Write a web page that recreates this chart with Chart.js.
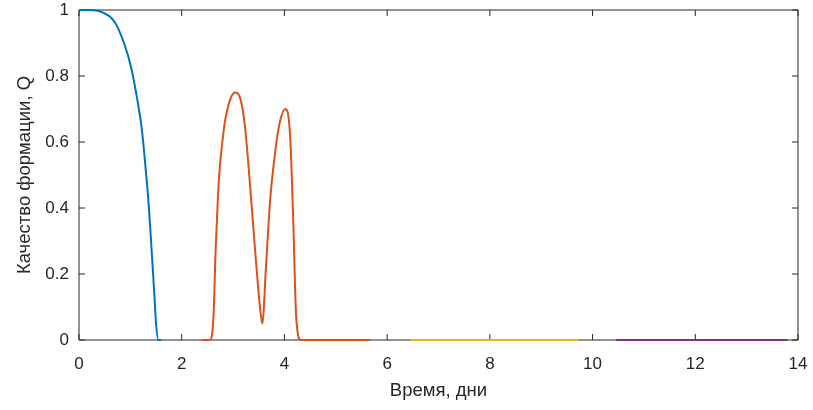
<!DOCTYPE html>
<html>
<head>
<meta charset="utf-8">
<script src="https://cdn.jsdelivr.net/npm/chart.js@4/dist/chart.umd.min.js"></script>
<style>
  html, body { margin: 0; padding: 0; background: #fff; }
  #wrap { width: 813px; height: 410px; }
</style>
</head>
<body>
<div id="wrap"><canvas id="myChart" width="813" height="410"></canvas></div>
<script>
// data (time in days, quality Q)
const blueT = [0, 0.1, 0.2, 0.3, 0.4, 0.5, 0.6, 0.7, 0.76, 0.89, 1.02, 1.12, 1.16, 1.21, 1.25, 1.3, 1.35, 1.39, 1.43, 1.47, 1.5, 1.545, 1.6];
const blueQ = [1, 1, 1, 0.999, 0.996, 0.99, 0.98, 0.962, 0.945, 0.894, 0.823, 0.742, 0.705, 0.655, 0.6, 0.515, 0.425, 0.333, 0.232, 0.131, 0.05, 0, 0];

const orangeT = [2.39, 2.55, 2.62, 2.66, 2.71, 2.74, 2.77, 2.84, 2.94, 3.04, 3.14, 3.23, 3.33, 3.43, 3.52, 3.57, 3.64, 3.72, 3.82, 3.91, 4.02, 4.11, 4.17, 4.23, 4.32, 5.67];
const orangeQ = [0, 0, 0.076, 0.27, 0.45, 0.52, 0.57, 0.66, 0.727, 0.75, 0.732, 0.65, 0.47, 0.27, 0.106, 0.05, 0.22, 0.42, 0.57, 0.66, 0.70, 0.62, 0.37, 0.066, 0, 0];

const yellowT = [6.46, 9.74];
const yellowQ = [0, 0];

const purpleT = [10.46, 13.79];
const purpleQ = [0, 0];

const xTicks = [0, 2, 4, 6, 8, 10, 12, 14];
const yTicks = [0, 0.2, 0.4, 0.6, 0.8, 1];

const axisColor = "#262626";
const fontFamily = "'Liberation Sans', Arial, sans-serif";

function toPoints(ts, qs) {
  return ts.map((t, i) => ({ x: t, y: qs[i] }));
}

function series(ts, qs, color) {
  return {
    data: toPoints(ts, qs),
    borderColor: color,
    borderWidth: 2,
    pointRadius: 0,
    fill: false,
    cubicInterpolationMode: "monotone",
    clip: false,
  };
}

//box around the plot and inward ticks, like matlab
const boxPlugin = {
  id: "box",
  beforeDatasetsDraw(chart) {
    const ctx = chart.ctx;
    const a = chart.chartArea;
    const xs = chart.scales.x;
    const ys = chart.scales.y;
    ctx.save();
    ctx.strokeStyle = axisColor;
    ctx.lineWidth = 1;
    ctx.beginPath();
    ctx.rect(a.left, a.top, a.right - a.left, a.bottom - a.top);
    xTicks.forEach((v) => {
      const px = xs.getPixelForValue(v);
      ctx.moveTo(px, a.bottom);
      ctx.lineTo(px, a.bottom - 6);
      ctx.moveTo(px, a.top);
      ctx.lineTo(px, a.top + 6);
    });
    yTicks.forEach((v) => {
      const py = ys.getPixelForValue(v);
      ctx.moveTo(a.left, py);
      ctx.lineTo(a.left + 6, py);
      ctx.moveTo(a.right, py);
      ctx.lineTo(a.right - 6, py);
    });
    ctx.stroke();
    ctx.restore();
  },
};

const ctx = document.getElementById("myChart").getContext("2d");

const chart = new Chart(ctx, {
  type: "line",
  data: {
    datasets: [
      series(blueT, blueQ, "#0072BD"),
      series(orangeT, orangeQ, "#D95319"),
      series(yellowT, yellowQ, "#EDB120"),
      series(purpleT, purpleQ, "#7E2F8E"),
    ],
  },
  options: {
    responsive: false,
    animation: false,
    layout: { padding: { left: 14, top: 10, right: 15, bottom: 8 } },
    plugins: {
      legend: { display: false },
      tooltip: { enabled: false },
    },
    scales: {
      x: {
        type: "linear",
        min: 0,
        max: 14,
        afterBuildTicks: (s) => { s.ticks = xTicks.map((v) => ({ value: v })); },
        afterFit: (s) => {
          s.height = 62;
          s.paddingLeft = 0;
          s.paddingRight = 0;
        },
        grid: { display: false, drawTicks: false },
        border: { display: false },
        ticks: {
          color: axisColor,
          padding: 14,
          maxRotation: 0,
          font: { family: fontFamily, size: 17 },
          callback: (v) => String(v),
        },
        title: {
          display: true,
          text: "Время, дни",
          color: axisColor,
          padding: { top: 0, bottom: 0 },
          font: { family: fontFamily, size: 18.5 },
        },
      },
      y: {
        type: "linear",
        min: 0,
        max: 1,
        afterBuildTicks: (s) => { s.ticks = yTicks.map((v) => ({ value: v })); },
        afterFit: (s) => {
          s.width = 65;
          s.paddingTop = 0;
          s.paddingBottom = 0;
        },
        grid: { display: false, drawTicks: false },
        border: { display: false },
        ticks: {
          color: axisColor,
          padding: 10,
          font: { family: fontFamily, size: 17 },
          callback: (v) => String(v),
        },
        title: {
          display: true,
          text: "Качество формации, Q",
          color: axisColor,
          padding: { top: 0, bottom: 0 },
          font: { family: fontFamily, size: 18.5 },
        },
      },
    },
  },
  plugins: [boxPlugin],
});
</script>
</body>
</html>
